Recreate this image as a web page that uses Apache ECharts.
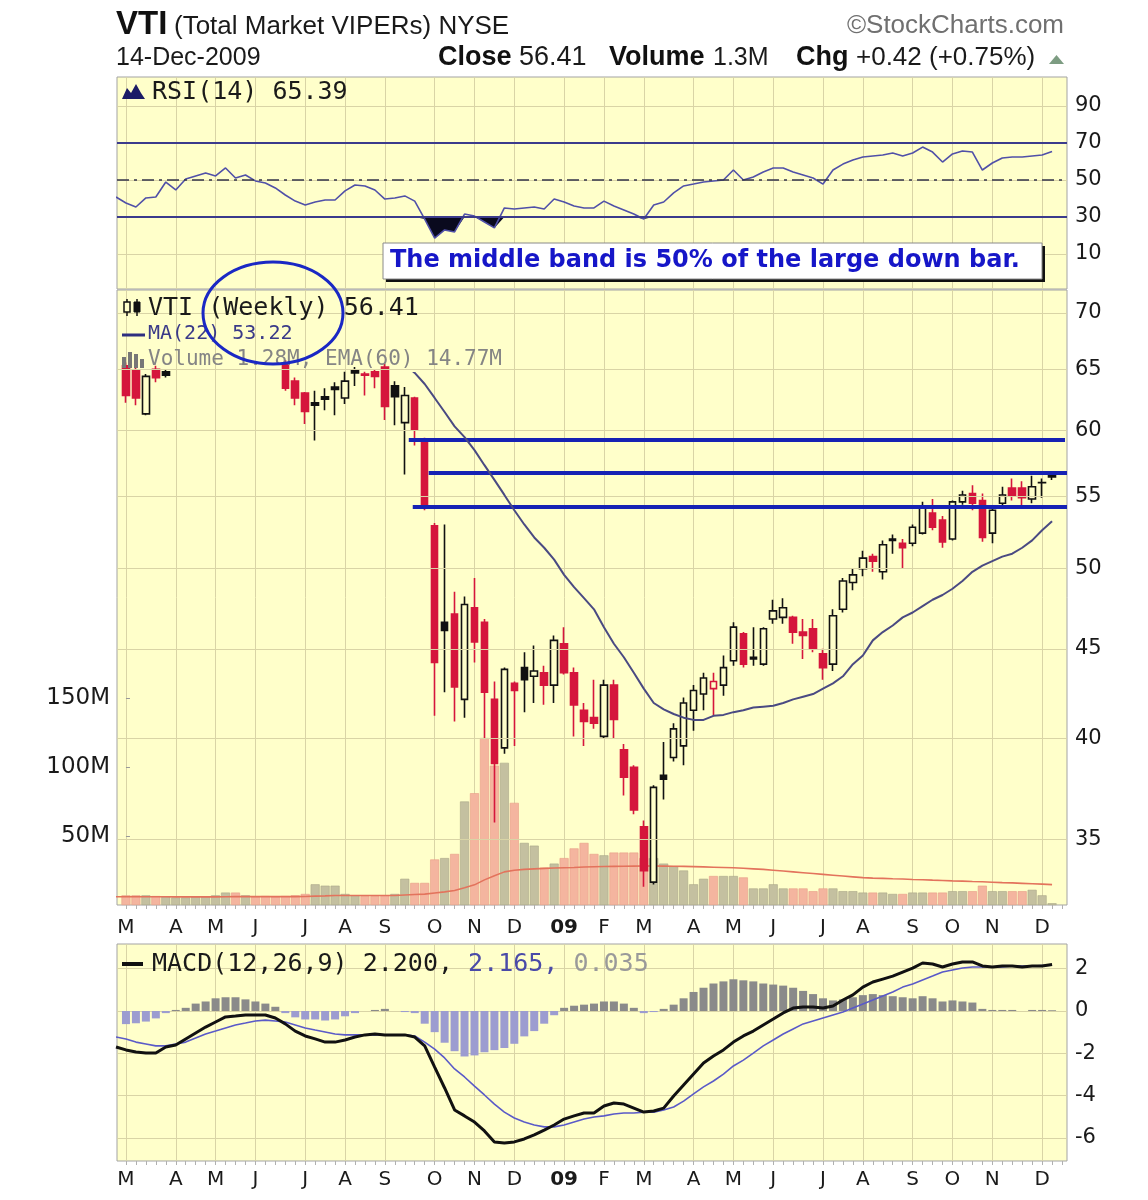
<!DOCTYPE html>
<html>
<head>
<meta charset="utf-8">
<script src="https://cdn.jsdelivr.net/npm/echarts@6.0.0/dist/echarts.min.js"></script>
<style>
  html, body { margin: 0; padding: 0; background: #ffffff; }
  #chart { width: 1148px; height: 1200px; }
</style>
</head>
<body>
<div id="chart"></div>
<script>
// VTI weekly candles: week 0 = 3 Mar 2008 ... week 93 = 14 Dec 2009.
// Indicator arrays (volume, RSI, MACD) start one week earlier (week -1).

const monthStarts = [0, 5, 9, 13, 18, 22, 26, 31, 35, 39, 44, 48, 52, 57, 61, 65, 70, 74, 79, 83, 87, 92];
const monthLabels = ['M', 'A', 'M', 'J', 'J', 'A', 'S', 'O', 'N', 'D', '09', 'F', 'M', 'A', 'M', 'J', 'J', 'A', 'S', 'O', 'N', 'D'];

const priorClose = 63.9; // close of the week before week 0

const opens = [
  65.3, 64.9, 61.3, 65.0, 64.8, 66.0, 65.8, 67.5, 68.6, 69.2,
  70.0, 70.4, 69.2, 70.1, 68.2, 67.4, 65.5, 64.0, 63.0, 62.2,
  62.7, 63.5, 62.6, 64.9, 64.6, 64.8, 65.2, 63.6, 60.6, 62.6,
  59.22, 52.9, 46.6, 47.1, 42.1, 47.5, 46.6, 42.1, 39.5, 43.0,
  43.9, 43.4, 43.6, 42.9, 45.3, 43.6, 41.5, 41.1, 40.1, 42.9,
  39.4, 38.5, 35.6, 33.1, 38.1, 39.0, 39.6, 41.5, 42.4, 42.7,
  42.9, 44.3, 45.9, 44.5, 44.1, 46.8, 46.9, 46.9, 46.0, 46.2,
  44.7, 44.1, 47.4, 49.1, 50.0, 50.8, 49.8, 52.0, 51.7, 51.7,
  52.4, 53.8, 53.3, 52.0, 54.6, 55.2, 54.7, 52.4, 54.5, 55.6,
  55.6, 54.8, 56.0, 56.6
];
const highs = [
  65.6, 65.2, 64.6, 65.3, 65.0, 67.2, 67.8, 69.0, 69.5, 70.4,
  71.0, 70.8, 70.6, 70.5, 69.1, 68.0, 65.8, 64.3, 63.1, 63.2,
  63.4, 63.9, 64.8, 65.2, 64.8, 65.0, 65.5, 64.0, 63.5, 62.7,
  59.4, 53.1, 53.0, 48.5, 48.2, 49.4, 46.8, 43.1, 43.9, 43.1,
  44.8, 45.2, 44.0, 45.8, 46.3, 43.9, 41.9, 43.2, 43.2, 43.2,
  39.7, 38.6, 35.9, 37.6, 39.8, 40.8, 42.2, 42.9, 43.6, 43.6,
  44.6, 46.6, 46.0, 46.3, 46.3, 48.0, 48.1, 47.0, 46.8, 46.8,
  45.0, 47.4, 49.4, 50.0, 51.2, 51.0, 51.9, 52.3, 52.0, 53.0,
  54.6, 54.8, 53.6, 54.7, 55.4, 55.8, 55.2, 54.3, 55.7, 56.3,
  56.1, 56.5, 56.3, 56.7
];
const lows = [
  62.2, 62.0, 61.2, 63.9, 64.3, 65.4, 65.2, 67.0, 67.8, 68.6,
  69.3, 68.9, 68.8, 67.9, 67.0, 65.6, 63.2, 62.0, 60.5, 59.2,
  61.6, 61.2, 62.1, 63.6, 62.8, 63.4, 60.8, 60.4, 56.6, 58.8,
  54.0, 41.2, 42.5, 40.9, 41.1, 44.2, 40.0, 35.8, 39.2, 39.6,
  41.4, 41.9, 41.8, 41.9, 43.5, 40.1, 39.6, 40.5, 40.0, 40.0,
  37.1, 36.2, 32.9, 33.0, 36.9, 38.8, 38.6, 40.4, 41.5, 41.2,
  42.3, 44.0, 43.9, 44.0, 44.0, 46.5, 46.5, 45.3, 44.4, 44.8,
  43.2, 43.7, 47.2, 48.6, 49.5, 49.8, 49.3, 51.0, 50.0, 51.5,
  52.3, 52.6, 51.4, 51.9, 54.4, 54.0, 51.8, 51.7, 54.2, 54.7,
  54.3, 54.5, 54.9, 56.2
];
const closes = [
  62.8, 62.6, 64.4, 64.3, 64.5, 65.8, 67.5, 68.6, 69.2, 70.0,
  70.4, 69.2, 70.1, 68.2, 67.4, 65.8, 63.4, 62.6, 61.5, 62.0,
  62.5, 63.3, 64.0, 64.7, 64.5, 64.4, 61.9, 62.7, 62.8, 60.0,
  54.23, 44.2, 46.1, 42.8, 47.7, 45.4, 42.5, 38.7, 43.8, 42.6,
  43.2, 43.7, 42.9, 45.5, 43.6, 41.8, 40.9, 40.8, 42.9, 41.0,
  38.0, 36.4, 33.6, 37.5, 37.9, 40.5, 41.9, 42.6, 43.3, 43.1,
  43.9, 46.3, 44.1, 44.4, 46.2, 47.3, 47.5, 46.0, 45.8, 45.0,
  43.9, 47.0, 49.2, 49.6, 50.7, 50.5, 51.6, 51.9, 51.4, 52.8,
  54.2, 52.8, 51.8, 54.6, 55.1, 54.5, 52.1, 54.0, 55.1, 55.0,
  54.9, 55.7, 55.99, 56.41
];

// 22-week moving average, from week 28 on (earlier values sit above the price pane)
const ma22Start = 28;
const ma22 = [
  65.4, 64.7, 63.76, 62.6, 61.45, 60.3, 59.45, 58.45, 57.3, 56.2,
  55.1, 54.0, 53.0, 52.1, 51.4, 50.6, 49.6, 48.8, 48.1, 47.4,
  46.3, 45.3, 44.5, 43.6, 42.7, 41.9, 41.55, 41.3, 41.1,
  40.98, 40.98, 41.2, 41.25, 41.4, 41.5, 41.65, 41.7, 41.75, 41.9,
  42.1, 42.25, 42.4, 42.7, 43.0, 43.4, 44.1, 44.6, 45.5, 46.0,
  46.4, 46.9, 47.2, 47.6, 48.0, 48.3, 48.7, 49.2, 49.8, 50.2,
  50.5, 50.8, 51.0, 51.4, 51.9, 52.6, 53.22
];

const indicatorStart = -1;
// weekly volume, millions of shares
const volumes = [
  7, 7, 7, 7, 6.5, 6, 5.5, 5.5, 6, 6,
  7, 9, 9, 7, 6, 6.5, 6, 6.5, 7, 8,
  15, 14, 14, 8, 7, 6.5, 6.5, 7, 8, 19,
  16, 16, 33, 34, 37, 75, 81, 121, 101, 103,
  74, 45, 43, 27, 30, 34, 41, 45, 37, 36,
  38, 38, 38, 34, 34, 30, 28, 25, 15, 19,
  21, 21, 21, 20, 12, 12, 15, 12, 12, 12,
  10, 12, 12, 10, 10, 9, 9, 9, 8, 8,
  9, 9, 9, 9, 10, 10, 10, 14, 10, 10,
  10, 10, 11, 7, 1.28
];
const volEma60 = [
  6.0, 6.0, 6.0, 6.0, 6.0, 6.0, 5.9, 5.9, 5.9, 5.9,
  5.9, 6.0, 6.1, 6.1, 6.1, 6.1, 6.1, 6.1, 6.1, 6.2,
  6.4, 6.6, 6.9, 6.9, 6.9, 6.9, 6.9, 6.9, 6.9, 7.3,
  7.6, 7.9, 8.7, 9.5, 10.5, 12.5, 14.6, 18.2, 21.2, 24.0,
  25.2, 25.8, 26.2, 26.5, 26.8, 27.0, 27.2, 27.5, 27.7, 27.9,
  28.0, 28.1, 28.2, 28.3, 28.3, 28.2, 28.1, 28.0, 27.8, 27.6,
  27.4, 27.2, 27.0, 26.6, 26.2, 25.8, 25.2, 24.6, 24.0, 23.4,
  22.8, 22.2, 21.6, 21.0, 20.4, 19.8, 19.5, 19.3, 19.0, 18.8,
  18.5, 18.3, 18.0, 17.8, 17.5, 17.3, 17.0, 16.8, 16.5, 16.2,
  16.0, 15.7, 15.4, 15.1, 14.77
];
const rsi14 = [
  40.8, 37.6, 35.4, 40.3, 40.8, 48.9, 44.6, 50.5, 52.2, 53.8,
  52.2, 56.5, 51.1, 52.7, 49.5, 48.4, 45.7, 41.9, 38.6, 36.5,
  38.1, 39.2, 39.2, 44.1, 47.3, 46.8, 44.6, 39.7, 40.3, 41.4,
  38.6, 28.9, 18.6, 23.0, 21.9, 31.6, 30.5, 27.3, 24.1, 34.9,
  34.3, 34.9, 35.4, 34.3, 39.7, 38.1, 35.9, 34.9, 34.9, 38.6,
  35.9, 33.8, 31.6, 28.9, 36.5, 38.1, 43.0, 46.8, 47.8, 48.9,
  49.5, 50.0, 55.4, 50.0, 51.6, 54.3, 56.5, 56.5, 54.3, 52.7,
  51.1, 47.8, 55.4, 58.6, 60.8, 62.4, 63.0, 63.5, 64.6, 63.0,
  64.6, 67.8, 65.1, 59.7, 64.1, 65.7, 65.1, 55.4, 59.2, 61.9,
  62.4, 62.4, 63.0, 63.5, 65.39
];
const macdLine = [
  -1.70, -1.84, -1.94, -1.99, -1.99, -1.70, -1.61, -1.32, -1.04, -0.76,
  -0.52, -0.28, -0.24, -0.19, -0.19, -0.19, -0.33, -0.61, -0.95, -1.18,
  -1.32, -1.47, -1.47, -1.37, -1.23, -1.13, -1.09, -1.13, -1.13, -1.13,
  -1.23, -1.65, -2.65, -3.64, -4.68, -4.96, -5.25, -5.67, -6.19, -6.24,
  -6.19, -6.05, -5.86, -5.63, -5.39, -5.11, -4.96, -4.82, -4.82, -4.49,
  -4.35, -4.40, -4.59, -4.78, -4.73, -4.59, -4.02, -3.50, -2.98, -2.46,
  -2.13, -1.84, -1.47, -1.18, -0.95, -0.66, -0.38, -0.09, 0.14, 0.19,
  0.19, 0.14, 0.24, 0.52, 0.76, 1.13, 1.37, 1.51, 1.65, 1.84,
  2.03, 2.27, 2.22, 2.08, 2.22, 2.32, 2.32, 2.13, 2.08, 2.13,
  2.13, 2.08, 2.13, 2.13, 2.200
];
const macdSignal = [
  -1.23, -1.32, -1.47, -1.56, -1.65, -1.65, -1.56, -1.47, -1.28, -1.09,
  -0.95, -0.80, -0.66, -0.57, -0.47, -0.43, -0.47, -0.52, -0.66, -0.80,
  -0.90, -0.99, -1.09, -1.13, -1.13, -1.13, -1.13, -1.13, -1.13, -1.13,
  -1.18, -1.47, -1.80, -2.22, -2.74, -3.12, -3.55, -3.97, -4.40, -4.78,
  -5.06, -5.25, -5.39, -5.48, -5.48, -5.39, -5.25, -5.11, -5.01, -4.96,
  -4.87, -4.82, -4.82, -4.78, -4.78, -4.68, -4.54, -4.26, -3.92, -3.59,
  -3.31, -2.98, -2.60, -2.32, -1.99, -1.65, -1.37, -1.09, -0.85, -0.61,
  -0.47, -0.33, -0.19, -0.05, 0.14, 0.33, 0.52, 0.71, 0.90, 1.13,
  1.28, 1.47, 1.65, 1.84, 1.94, 2.03, 2.08, 2.08, 2.08, 2.08,
  2.13, 2.13, 2.13, 2.15, 2.165
];
const macdHist = [
  -0.6, -0.62, -0.58, -0.5, -0.35, -0.1, 0.05, 0.15, 0.35, 0.45,
  0.6, 0.65, 0.65, 0.55, 0.45, 0.35, 0.2, -0.1, -0.3, -0.4,
  -0.4, -0.45, -0.4, -0.25, -0.1, 0.0, 0.05, 0.1, 0.0, -0.05,
  -0.1, -0.6, -1.0, -1.5, -1.9, -2.15, -2.1, -1.95, -1.85, -1.75,
  -1.55, -1.2, -0.95, -0.6, -0.2, 0.15, 0.25, 0.3, 0.35, 0.45,
  0.45, 0.35, 0.15, -0.1, -0.05, 0.1, 0.3, 0.6, 0.9, 1.1,
  1.3, 1.4, 1.5, 1.45, 1.4, 1.3, 1.25, 1.2, 1.1, 0.95,
  0.8, 0.6, 0.5, 0.55, 0.65, 0.75, 0.8, 0.75, 0.7, 0.65,
  0.6, 0.7, 0.6, 0.45, 0.5, 0.45, 0.4, 0.1, 0.05, 0.05,
  0.05, 0.0, 0.05, 0.05, 0.035
];

const rsiTicks = [10, 30, 50, 70, 90];
const priceTicks = [35, 40, 45, 50, 55, 60, 65, 70];
const volumeTicks = [50, 100, 150];
const macdTicks = [-6, -4, -2, 0, 2];

// the large down bar whose range is split by the three bands
const bigBarWeek = 30;

// ---- styling ----
const PANEL_BG = '#ffffca';
const GRID_LINE = '#d9d4a6';
const BORDER = '#a3a3a3';
const RED = '#d5163c';
const BLACK = '#111111';
const BAND_BLUE = '#1622b4';
const AXIS_FONT = 'DejaVu Sans';
const LEGEND_FONT = '"DejaVu Sans Mono"';
const X_MIN = -0.9, X_MAX = 94.5;

const weekTicks = [];
for (let w = 0; w <= 94; w++) weekTicks.push(w);

const prevClose = i => (i > 0 ? closes[i - 1] : priorClose);

// hollow body when the week closed above its open; red when it closed below the prior week
const candleData = opens.map((o, i) => {
  const c = closes[i];
  const edge = c < prevClose(i) ? RED : BLACK;
  const fill = c > o ? PANEL_BG : edge;
  return {
    value: [i, o, c, lows[i], highs[i]],
    itemStyle: { color: fill, color0: fill, borderColor: edge, borderColor0: edge }
  };
});

// bars are only drawn for weeks whose full width lies inside the panes
const volumeData = volumes.map((v, k) => {
  const i = k + indicatorStart;
  const up = i >= 0 && closes[i] >= prevClose(i);
  return {
    value: [i, v],
    itemStyle: { color: up ? '#c4c0a0' : '#f4b59f', borderColor: up ? '#aaa688' : '#e79c86', borderWidth: 0.6 }
  };
}).filter(d => d.value[0] >= 0);

const histData = macdHist.map((v, k) => ({
  value: [k + indicatorStart, v],
  itemStyle: { color: v >= 0 ? '#8a8a8a' : '#9c9cd0' }
})).filter(d => d.value[0] >= 0);

const pairs = (arr, start) => arr.map((v, k) => [k + start, v]);

const bandHigh = opens[bigBarWeek];
const bandLow = closes[bigBarWeek];
const bandMid = (bandHigh + bandLow) / 2;

const monthFormatter = v => {
  const k = monthStarts.indexOf(Math.round(v));
  if (k < 0) return '';
  const t = monthLabels[k];
  return t === '09' ? '{b|09}' : t;
};

const hiddenX = g => ({
  type: 'value', gridIndex: g, min: X_MIN, max: X_MAX,
  axisLine: { show: false }, axisTick: { show: false }, axisLabel: { show: false }, splitLine: { show: false }
});
const monthLinesX = (g, pos) => Object.assign(hiddenX(g), {
  position: pos,
  axisTick: { show: false, customValues: monthStarts },
  splitLine: { show: true, lineStyle: { color: GRID_LINE, width: 1 } }
});
const labelledX = (g, margin) => Object.assign(hiddenX(g), {
  position: 'bottom',
  axisTick: { show: true, customValues: weekTicks, length: 4, lineStyle: { color: '#b0b0b0' } },
  axisLabel: {
    show: true, customValues: monthStarts, formatter: monthFormatter, margin: margin,
    fontFamily: AXIS_FONT, fontSize: 20, color: '#1a1a1a',
    rich: { b: { fontFamily: AXIS_FONT, fontSize: 20, fontWeight: 'bold', color: '#1a1a1a' } }
  }
});

const sideY = (g, min, max, ticks, pos, fmt) => ({
  type: 'value', gridIndex: g, min: min, max: max, position: pos,
  axisLine: { show: false },
  axisTick: { show: false, customValues: ticks },
  axisLabel: { show: true, customValues: ticks, margin: 8, fontFamily: AXIS_FONT, fontSize: 21, color: '#1a1a1a', formatter: fmt },
  splitLine: { show: true, lineStyle: { color: GRID_LINE, width: 1 } }
});

const txt = (x, y, text, font, fill, extra) => Object.assign({
  type: 'text', x: x, y: y, z: 50,
  style: { text: text, font: font, fill: fill, verticalAlign: 'middle', align: 'left' }
}, extra || {});

const graphics = [
  // header
  txt(116, 25, 'VTI', 'bold 33px "Liberation Sans"', '#111'),
  txt(174, 27, '(Total Market VIPERs) NYSE', '26px "Liberation Sans"', '#1a1a1a'),
  { type: 'text', x: 1064, y: 26, z: 50, style: { text: '\u00a9StockCharts.com', font: '26px "Liberation Sans"', fill: '#707070', align: 'right', verticalAlign: 'middle' } },
  txt(116, 58, '14-Dec-2009', '25px "Liberation Sans"', '#1a1a1a'),
  txt(438, 58, 'Close', 'bold 27px "Liberation Sans"', '#111'),
  txt(519, 58, '56.41', '27px "Liberation Sans"', '#1a1a1a'),
  txt(609, 58, 'Volume', 'bold 27px "Liberation Sans"', '#111'),
  txt(713, 58, '1.3M', '25px "Liberation Sans"', '#1a1a1a'),
  txt(796, 58, 'Chg', 'bold 27px "Liberation Sans"', '#111'),
  txt(856, 58, '+0.42 (+0.75%)', '26px "Liberation Sans"', '#1a1a1a'),
  { type: 'polygon', z: 50, shape: { points: [[1049, 64], [1064, 64], [1056.5, 55]] }, style: { fill: '#7d9c82' } },

  // RSI legend
  { type: 'polygon', z: 50, shape: { points: [[122, 99], [127, 88], [131, 93], [136, 84], [141, 93], [145, 99]] }, style: { fill: '#1c1c66' } },
  txt(152, 92, 'RSI(14) 65.39', '25px ' + LEGEND_FONT, '#1a1a1a'),

  // price legend
  { type: 'line', z: 50, shape: { x1: 127, y1: 299, x2: 127, y2: 316 }, style: { stroke: '#111', lineWidth: 1.5 } },
  { type: 'rect', z: 51, shape: { x: 124, y: 302, width: 6, height: 10 }, style: { fill: PANEL_BG, stroke: '#111', lineWidth: 1.5 } },
  { type: 'line', z: 50, shape: { x1: 137, y1: 299, x2: 137, y2: 316 }, style: { stroke: '#111', lineWidth: 1.5 } },
  { type: 'rect', z: 51, shape: { x: 134, y: 302, width: 6, height: 10 }, style: { fill: '#111', stroke: '#111', lineWidth: 1 } },
  txt(148, 308, 'VTI (Weekly) 56.41', '25px ' + LEGEND_FONT, '#1a1a1a'),
  { type: 'line', z: 50, shape: { x1: 122, y1: 335, x2: 145, y2: 335 }, style: { stroke: '#2e2e80', lineWidth: 3 } },
  txt(148, 334, 'MA(22) 53.22', '20px ' + LEGEND_FONT, '#3a3a88'),
  { type: 'rect', z: 50, shape: { x: 122, y: 357, width: 4, height: 11 }, style: { fill: '#777' } },
  { type: 'rect', z: 50, shape: { x: 128, y: 352, width: 4, height: 16 }, style: { fill: '#777' } },
  { type: 'rect', z: 50, shape: { x: 134, y: 354, width: 4, height: 14 }, style: { fill: '#777' } },
  { type: 'rect', z: 50, shape: { x: 140, y: 359, width: 4, height: 9 }, style: { fill: '#777' } },
  txt(148, 360, 'Volume 1.28M, EMA(60) 14.77M', '21px ' + LEGEND_FONT, '#858585'),

  // MACD legend
  { type: 'line', z: 50, shape: { x1: 122, y1: 964, x2: 143, y2: 964 }, style: { stroke: '#111', lineWidth: 4 } },
  {
    type: 'text', x: 152, y: 964, z: 50,
    style: {
      text: '{a|MACD(12,26,9) 2.200,} {b|2.165,} {c|0.035}', verticalAlign: 'middle', align: 'left',
      font: '25px ' + LEGEND_FONT,
      rich: {
        a: { fontFamily: 'DejaVu Sans Mono', fontSize: 25, fill: '#1a1a1a' },
        b: { fontFamily: 'DejaVu Sans Mono', fontSize: 25, fill: '#4a4aa8' },
        c: { fontFamily: 'DejaVu Sans Mono', fontSize: 25, fill: '#9a9a9a' }
      }
    }
  },

  // note box
  { type: 'rect', z: 60, shape: { x: 386, y: 246, width: 659, height: 36 }, style: { fill: '#111' } },
  { type: 'rect', z: 61, shape: { x: 383, y: 243, width: 659, height: 36 }, style: { fill: '#ffffff', stroke: '#8a8a8a', lineWidth: 1 } },
  { type: 'text', x: 390, y: 261, z: 62, style: { text: 'The middle band is 50% of the large down bar.', font: 'bold 24px "DejaVu Sans"', fill: '#1616c8', verticalAlign: 'middle', align: 'left' } },

  // ring round the period
  { type: 'ellipse', z: 70, shape: { cx: 273, cy: 313, rx: 70, ry: 51 }, style: { fill: 'none', stroke: '#1a28c4', lineWidth: 3 } }
];

const chart = echarts.init(document.getElementById('chart'), null, { renderer: 'canvas' });

chart.setOption({
  animation: false,
  backgroundColor: '#ffffff',
  grid: [
    { left: 117, top: 77, width: 950, height: 212, show: true, backgroundColor: PANEL_BG, borderColor: BORDER, borderWidth: 1 },
    { left: 117, top: 290, width: 950, height: 615, show: true, backgroundColor: PANEL_BG, borderColor: BORDER, borderWidth: 1 },
    { left: 117, top: 373, width: 950, height: 532, show: false },
    { left: 117, top: 697, width: 950, height: 208, show: false },
    { left: 117, top: 944, width: 950, height: 217, show: true, backgroundColor: PANEL_BG, borderColor: BORDER, borderWidth: 1 }
  ],
  xAxis: [
    monthLinesX(0, 'bottom'),   // 0 RSI
    monthLinesX(1, 'top'),      // 1 price pane lines
    labelledX(1, 13),           // 2 price pane labels
    hiddenX(2),                 // 3 candles
    hiddenX(3),                 // 4 volume
    monthLinesX(4, 'top'),      // 5 MACD lines
    labelledX(4, 9)             // 6 MACD labels
  ],
  yAxis: [
    sideY(0, -8.92, 105.68, rsiTicks, 'right'),
    { type: 'log', gridIndex: 1, min: 32.12, max: 72.15, show: false, splitLine: { show: false } },
    { type: 'log', gridIndex: 2, min: 32.12, max: 64.69, show: false, splitLine: { show: false } },
    {
      type: 'value', gridIndex: 3, min: 0, max: 150.7, position: 'left',
      axisLine: { show: false },
      axisTick: { show: true, customValues: volumeTicks, length: 4, inside: true, lineStyle: { color: '#999' } },
      axisLabel: { show: true, customValues: volumeTicks, margin: 7, fontFamily: AXIS_FONT, fontSize: 23, color: '#1a1a1a', formatter: v => v + 'M' },
      splitLine: { show: false }
    },
    sideY(4, -7.092, 3.168, macdTicks, 'right')
  ],
  series: [
    // price grid lines and their labels
    {
      type: 'line', xAxisIndex: 2, yAxisIndex: 1, z: 1, silent: true, symbol: 'none',
      data: [[X_MIN, 50], [X_MAX, 50]], lineStyle: { opacity: 0 },
      markLine: {
        silent: true, symbol: 'none', animation: false,
        lineStyle: { color: GRID_LINE, width: 1, type: 'solid' },
        label: { show: true, position: 'end', distance: 8, formatter: p => String(p.value), fontFamily: AXIS_FONT, fontSize: 21, color: '#1a1a1a' },
        data: priceTicks.map(v => ({ yAxis: v }))
      }
    },
    // volume
    {
      type: 'bar', xAxisIndex: 4, yAxisIndex: 3, z: 2, barWidth: 9, silent: true,
      data: volumeData
    },
    {
      type: 'line', xAxisIndex: 4, yAxisIndex: 3, z: 3, symbol: 'none', silent: true,
      data: pairs(volEma60, indicatorStart), lineStyle: { color: '#e3735c', width: 1.6 }
    },
    // candles
    {
      type: 'candlestick', xAxisIndex: 3, yAxisIndex: 2, z: 4, barWidth: 7, silent: true, clip: true,
      itemStyle: { borderWidth: 1.6 },
      data: candleData,
      markLine: {
        silent: true, symbol: 'none', animation: false, label: { show: false },
        lineStyle: { color: BAND_BLUE, width: 4, type: 'solid' },
        data: [
          [{ coord: [28.4, bandHigh] }, { coord: [94.3, bandHigh] }],
          [{ coord: [30.4, bandMid] }, { coord: [X_MAX, bandMid] }],
          [{ coord: [28.8, bandLow] }, { coord: [X_MAX, bandLow] }]
        ]
      }
    },
    {
      type: 'line', xAxisIndex: 3, yAxisIndex: 2, z: 5, symbol: 'none', silent: true,
      data: pairs(ma22, ma22Start), lineStyle: { color: '#4a4a82', width: 2 }
    },
    // RSI: shading under 30, then the line
    {
      type: 'line', xAxisIndex: 0, yAxisIndex: 0, z: 2, symbol: 'none', silent: true,
      data: pairs(rsi14.map(v => Math.min(v, 30)), indicatorStart),
      lineStyle: { width: 0, opacity: 0 },
      areaStyle: { color: '#0a0a1e', opacity: 1, origin: 30 }
    },
    {
      type: 'line', xAxisIndex: 0, yAxisIndex: 0, z: 3, symbol: 'none', silent: true,
      data: pairs(rsi14, indicatorStart), lineStyle: { color: '#5050a8', width: 1.6 },
      markLine: {
        silent: true, symbol: 'none', animation: false, label: { show: false },
        lineStyle: { color: '#3b3b8c', width: 2, type: 'solid' },
        data: [
          { yAxis: 70 },
          { yAxis: 30 },
          { yAxis: 50, lineStyle: { color: '#33334a', width: 1.6, type: [12, 5, 3, 5] } }
        ]
      }
    },
    // MACD
    {
      type: 'bar', xAxisIndex: 6, yAxisIndex: 4, z: 2, barWidth: 8, silent: true,
      data: histData
    },
    {
      type: 'line', xAxisIndex: 6, yAxisIndex: 4, z: 3, symbol: 'none', silent: true,
      data: pairs(macdSignal, indicatorStart), lineStyle: { color: '#5a5ac8', width: 1.6 }
    },
    {
      type: 'line', xAxisIndex: 6, yAxisIndex: 4, z: 4, symbol: 'none', silent: true,
      data: pairs(macdLine, indicatorStart), lineStyle: { color: '#111111', width: 3 }
    }
  ],
  graphic: { elements: graphics }
});
</script>
</body>
</html>
